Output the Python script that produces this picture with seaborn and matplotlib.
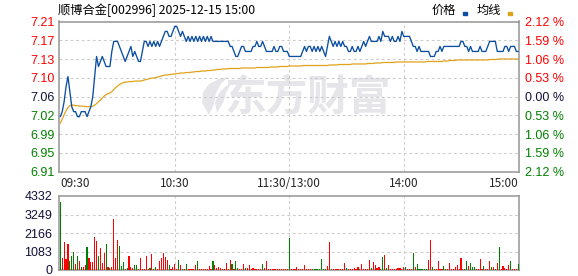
import matplotlib
matplotlib.use("Agg")
import matplotlib.pyplot as plt
import numpy as np
import pandas as pd
import seaborn as sns
from matplotlib.patches import Rectangle, Polygon

# ---------------- data ----------------
title_text = "顺博合金[002996] 2025-12-15 15:00"
legend_labels = ["价格", "均线"]
watermark = "东方财富"
prev_close = 7.06

price = [
    7.02, 7.03, 7.05, 7.08, 7.10, 7.07, 7.04, 7.03, 7.03, 7.02,
    7.02, 7.03, 7.03, 7.03, 7.02, 7.03, 7.04, 7.06, 7.10, 7.14,
    7.12, 7.13, 7.14, 7.13, 7.12, 7.12, 7.12, 7.15, 7.17, 7.17,
    7.17, 7.16, 7.15, 7.14, 7.13, 7.14, 7.15, 7.16, 7.14, 7.15,
    7.14, 7.13, 7.13, 7.15, 7.17, 7.17, 7.16, 7.17, 7.16, 7.17,
    7.16, 7.17, 7.16, 7.17, 7.18, 7.19, 7.19, 7.18, 7.18, 7.19,
    7.20, 7.20, 7.19, 7.18, 7.19, 7.18, 7.17, 7.18, 7.17, 7.18,
    7.17, 7.18, 7.17, 7.18, 7.17, 7.18, 7.17, 7.18, 7.17, 7.18,
    7.17, 7.17, 7.17, 7.17, 7.17, 7.17, 7.17, 7.17, 7.17, 7.16,
    7.16, 7.15, 7.14, 7.14, 7.15, 7.16, 7.16, 7.15, 7.15, 7.15,
    7.15, 7.16, 7.16, 7.17, 7.16, 7.16, 7.17, 7.16, 7.15, 7.15,
    7.15, 7.15, 7.16, 7.15, 7.15, 7.16, 7.16, 7.15, 7.15, 7.15,
    7.14, 7.14, 7.14, 7.14, 7.14, 7.14, 7.14, 7.15, 7.16, 7.15,
    7.16, 7.16, 7.15, 7.16, 7.15, 7.16, 7.15, 7.16, 7.15, 7.14,
    7.16, 7.18, 7.17, 7.16, 7.17, 7.16, 7.17, 7.16, 7.17, 7.16,
    7.16, 7.15, 7.15, 7.16, 7.15, 7.15, 7.16, 7.15, 7.16, 7.17,
    7.16, 7.17, 7.18, 7.17, 7.17, 7.17, 7.17, 7.18, 7.17, 7.19,
    7.18, 7.18, 7.18, 7.17, 7.18, 7.17, 7.17, 7.18, 7.17, 7.19,
    7.18, 7.18, 7.18, 7.18, 7.17, 7.16, 7.16, 7.15, 7.16, 7.15,
    7.15, 7.15, 7.15, 7.15, 7.14, 7.14, 7.14, 7.15, 7.15, 7.16,
    7.15, 7.16, 7.16, 7.16, 7.16, 7.16, 7.16, 7.16, 7.16, 7.16,
    7.17, 7.17, 7.16, 7.16, 7.15, 7.16, 7.15, 7.15, 7.15, 7.15,
    7.16, 7.15, 7.15, 7.15, 7.16, 7.17, 7.17, 7.17, 7.17, 7.15,
    7.15, 7.15, 7.15, 7.16, 7.16, 7.15, 7.16, 7.16, 7.16, 7.15,
    7.15,
]

avg_price = [
    7.007, 7.015, 7.024, 7.032, 7.038, 7.042, 7.043, 7.043, 7.042, 7.042,
    7.041, 7.041, 7.041, 7.040, 7.040, 7.040, 7.040, 7.041, 7.043, 7.046,
    7.050, 7.053, 7.057, 7.061, 7.064, 7.066, 7.067, 7.070, 7.074, 7.078,
    7.081, 7.084, 7.086, 7.088, 7.089, 7.089, 7.090, 7.090, 7.090, 7.091,
    7.091, 7.091, 7.091, 7.092, 7.093, 7.094, 7.095, 7.096, 7.097, 7.097,
    7.098, 7.099, 7.100, 7.101, 7.102, 7.103, 7.103, 7.104, 7.104, 7.105,
    7.105, 7.106, 7.106, 7.107, 7.107, 7.107, 7.108, 7.108, 7.108, 7.109,
    7.109, 7.110, 7.110, 7.110, 7.111, 7.111, 7.111, 7.112, 7.112, 7.112,
    7.113, 7.113, 7.114, 7.114, 7.114, 7.115, 7.115, 7.115, 7.116, 7.116,
    7.116, 7.116, 7.116, 7.116, 7.116, 7.117, 7.117, 7.117, 7.117, 7.117,
    7.117, 7.117, 7.117, 7.118, 7.118, 7.118, 7.118, 7.118, 7.118, 7.118,
    7.119, 7.119, 7.119, 7.119, 7.119, 7.120, 7.120, 7.120, 7.120, 7.120,
    7.121, 7.121, 7.121, 7.121, 7.121, 7.121, 7.121, 7.122, 7.122, 7.122,
    7.122, 7.122, 7.122, 7.122, 7.122, 7.122, 7.122, 7.122, 7.122, 7.122,
    7.122, 7.123, 7.123, 7.123, 7.123, 7.123, 7.124, 7.124, 7.124, 7.124,
    7.124, 7.124, 7.124, 7.125, 7.125, 7.125, 7.125, 7.125, 7.125, 7.125,
    7.125, 7.126, 7.126, 7.126, 7.126, 7.127, 7.127, 7.127, 7.127, 7.128,
    7.128, 7.128, 7.128, 7.128, 7.128, 7.128, 7.129, 7.129, 7.129, 7.129,
    7.129, 7.129, 7.129, 7.129, 7.129, 7.129, 7.129, 7.129, 7.129, 7.129,
    7.129, 7.129, 7.130, 7.130, 7.130, 7.130, 7.130, 7.130, 7.130, 7.130,
    7.130, 7.131, 7.131, 7.131, 7.132, 7.132, 7.132, 7.132, 7.133, 7.133,
    7.133, 7.133, 7.133, 7.133, 7.133, 7.133, 7.133, 7.133, 7.133, 7.133,
    7.133, 7.133, 7.133, 7.133, 7.133, 7.134, 7.134, 7.134, 7.134, 7.134,
    7.135, 7.135, 7.135, 7.135, 7.135, 7.135, 7.135, 7.135, 7.135, 7.135,
    7.135,
]

volume = [
    4000, 680, 1660, 650, 1520, 550, 820, 1070, 350, 820,
    550, 150, 200, 290, 1370, 720, 490, 490, 1950, 1720,
    820, 1300, 430, 1010, 1520, 200, 140, 200, 2980, 720,
    1750, 1400, 230, 490, 60, 140, 820, 150, 100, 270,
    270, 40, 720, 60, 60, 820, 60, 120, 940, 80,
    150, 80, 530, 720, 1010, 780, 590, 290, 40, 200,
    350, 40, 590, 290, 60, 40, 350, 60, 60, 60,
    60, 290, 530, 60, 60, 60, 60, 60, 230, 60,
    530, 290, 100, 150, 100, 60, 60, 390, 60, 590,
    350, 60, 530, 100, 60, 60, 350, 100, 140, 290,
    40, 100, 40, 40, 40, 60, 350, 100, 530, 60,
    60, 60, 60, 60, 60, 60, 60, 60, 60, 60,
    1850, 40, 60, 60, 160, 60, 60, 60, 270, 60,
    60, 60, 60, 60, 60, 60, 60, 620, 60, 60,
    230, 1640, 60, 60, 60, 60, 60, 60, 60, 390,
    100, 60, 60, 60, 100, 60, 160, 60, 350, 60,
    60, 60, 590, 100, 470, 270, 100, 160, 60, 740,
    880, 100, 270, 60, 60, 60, 60, 100, 100, 60,
    160, 160, 60, 60, 60, 975, 160, 350, 60, 60,
    60, 60, 60, 590, 1750, 160, 60, 60, 550, 60,
    60, 230, 60, 60, 390, 60, 60, 160, 290, 60,
    680, 60, 60, 550, 230, 430, 160, 160, 60, 60,
    620, 60, 230, 60, 60, 530, 200, 160, 60, 430,
    1330, 60, 230, 100, 60, 290, 550, 60, 60, 60,
    350,
]

# u = up (red bar), d = down (green bar); one letter per minute
direction_str = (
    "duuuudddud uduuduuuuu duuududuuu uddduduuud duuuuuuduu "
    "duuuuuuduu uudududuuu uuduuuuuuu duuuuuuuuu dudduuuduu "
    "uuuuuuduuu uuuuuuuuuu duuuuuuuuu uudddddddd uuduuuuuuu "
    "duuuuuuduu uuuduuuudd uduuuuuuuu uduuududdd ddduuduuuu "
    "udduuuuuuu uudduddduu uuduuududu duuuuuduuu d"
)

minute_ticks = [0, 60, 120, 180, 240]
time_labels = ["09:30", "10:30", "11:30/13:00", "14:00", "15:00"]
pct_levels = [2.12, 1.59, 1.06, 0.53, 0.00, -0.53, -1.06, -1.59, -2.12]
price_labels = ["7.21", "7.17", "7.13", "7.10", "7.06", "7.02", "6.99", "6.95", "6.91"]
pct_labels = ["2.12 %", "1.59 %", "1.06 %", "0.53 %", "0.00 %",
              "0.53 %", "1.06 %", "1.59 %", "2.12 %"]
vol_ticks = [0, 1083, 2166, 3249, 4332]
vol_labels = ["0", "1083", "2166", "3249", "4332"]

# ---------------- style ----------------
sns.set_style("white")
plt.rcParams["font.family"] = ["Liberation Sans", "Noto Sans CJK SC", "DejaVu Sans"]
CJK = ["Noto Sans CJK SC", "DejaVu Sans"]

RED = "#ff0000"
GREEN = "#008000"
DARK = "#10103a"
BLUE = "#0b4ea2"
GOLD = "#e0a21a"
GRID = "#cccccc"
SPINE = "#949494"
WM = "#e5e5ea"

W, H = 578, 276
fig = plt.figure(figsize=(W / 100, H / 100), dpi=100)
fig.patch.set_facecolor("white")

L, R = 58.5, 519.3
ax = fig.add_axes([L / W, 1 - 171.7 / H, (R - L) / W, (171.7 - 21.5) / H])
axv = fig.add_axes([L / W, 1 - 270.0 / H, (R - L) / W, (270.0 - 196.0) / H])

directions = list("".join(direction_str.split()))
minutes = np.arange(len(price))
df = pd.DataFrame({"minute": minutes, "price": price, "avg": avg_price,
                   "volume": volume, "dir": directions})

xlim = (-0.95, 240.55)
price_levels = [prev_close * (1 + p / 100) for p in pct_levels]

# watermark (logo swoosh + text)
def px(x, y):
    return (x / W, 1 - y / H)

logo = Polygon([px(209, 115), px(202, 103), px(203, 92), px(209, 84),
                px(219, 79), px(228, 77), px(221, 84), px(216, 93),
                px(214, 104)], closed=True, transform=fig.transFigure,
               facecolor=WM, edgecolor="none", zorder=0.4)
ax.add_artist(logo)
logo2 = Polygon([px(217, 113), px(215, 103), px(219, 93), px(226, 86),
                 px(231, 84), px(226, 93), px(223, 103)], closed=True,
                transform=fig.transFigure, facecolor=WM, edgecolor="none",
                zorder=0.4)
ax.add_artist(logo2)
ax.text(308 / W, 1 - 97 / H, watermark, transform=fig.transFigure,
        ha="center", va="center", fontsize=30, fontweight="bold",
        color=WM, family=CJK, zorder=0.5)

sns.lineplot(data=df, x="minute", y="avg", ax=ax, color=GOLD, lw=0.9,
             estimator=None, zorder=3)
sns.lineplot(data=df, x="minute", y="price", ax=ax, color=BLUE, lw=0.95,
             estimator=None, zorder=4)

# two categorical passes sharing the full minute order -> bar k sits at minute k
for key, col in (("u", RED), ("d", GREEN)):
    sub = df[df["dir"] == key]
    sns.barplot(data=sub, x="minute", y="volume", order=list(minutes),
                color=col, width=0.6, errorbar=None, saturation=1,
                linewidth=0, edgecolor=col, ax=axv, zorder=3)
for p in axv.patches:
    p.set_antialiased(False)

for a in (ax, axv):
    a.set_xlim(*xlim)
    a.set_xlabel("")
    a.set_ylabel("")
    a.set_xticks(minute_ticks)
    for x in minute_ticks[1:-1]:
        a.axvline(x, color=GRID, lw=0.8, dashes=(2.5, 2.5), zorder=1)
    for s in a.spines.values():
        s.set_visible(True)
        s.set_color(SPINE)
        s.set_linewidth(1.1)
    a.tick_params(length=0)
    a.set_facecolor("none")

ax.set_ylim(price_levels[-1], price_levels[0])
ax.set_yticks(price_levels)
ax.set_yticklabels(price_labels, fontsize=9)
ax.tick_params(axis="y", pad=2.5)
for lvl in price_levels[1:-1]:
    ax.axhline(lvl, color=GRID, lw=0.8, dashes=(2.5, 2.5), zorder=1)
for t, p in zip(ax.get_yticklabels(), pct_levels):
    t.set_color(RED if p > 0 else (GREEN if p < 0 else DARK))

ax.set_xticklabels(time_labels, fontsize=8.5, family=CJK)
ax.tick_params(axis="x", pad=3.6)
xt = ax.get_xticklabels()
xt[0].set_ha("left")
xt[-1].set_ha("right")

ax2 = ax.twinx()
ax2.set_ylim(ax.get_ylim())
ax2.set_yticks(price_levels)
ax2.set_yticklabels(pct_labels, fontsize=9)
ax2.tick_params(length=0, pad=4.2)
for s in ax2.spines.values():
    s.set_visible(False)
for t, p in zip(ax2.get_yticklabels(), pct_levels):
    t.set_color(RED if p > 0 else (GREEN if p < 0 else DARK))

axv.set_ylim(vol_ticks[0], vol_ticks[-1])
axv.set_yticks(vol_ticks)
axv.set_yticklabels(vol_labels, fontsize=9, color=DARK)
axv.tick_params(axis="y", pad=4.6)
axv.set_xticklabels([])
for v in vol_ticks[1:-1]:
    axv.axhline(v, color=GRID, lw=0.8, dashes=(2.5, 2.5), zorder=1)

# title and legend
fig.text(58 / W, 1 - 10 / H, title_text, ha="left", va="center",
         fontsize=8.8, family=CJK, color="#000000")
fig.text(431.5 / W, 1 - 10 / H, legend_labels[0], ha="left", va="center",
         fontsize=8.8, family=CJK, color="#000000")
fig.text(476.5 / W, 1 - 10 / H, legend_labels[1], ha="left", va="center",
         fontsize=8.8, family=CJK, color="#000000")
fig.patches.append(Rectangle((462.7 / W, 1 - 15 / H), 4 / W, 3 / H,
                             color=BLUE, transform=fig.transFigure))
fig.patches.append(Rectangle((507.7 / W, 1 - 15 / H), 4 / W, 3 / H,
                             color=GOLD, transform=fig.transFigure))

fig.savefig("out.png", dpi=100, facecolor="white")
